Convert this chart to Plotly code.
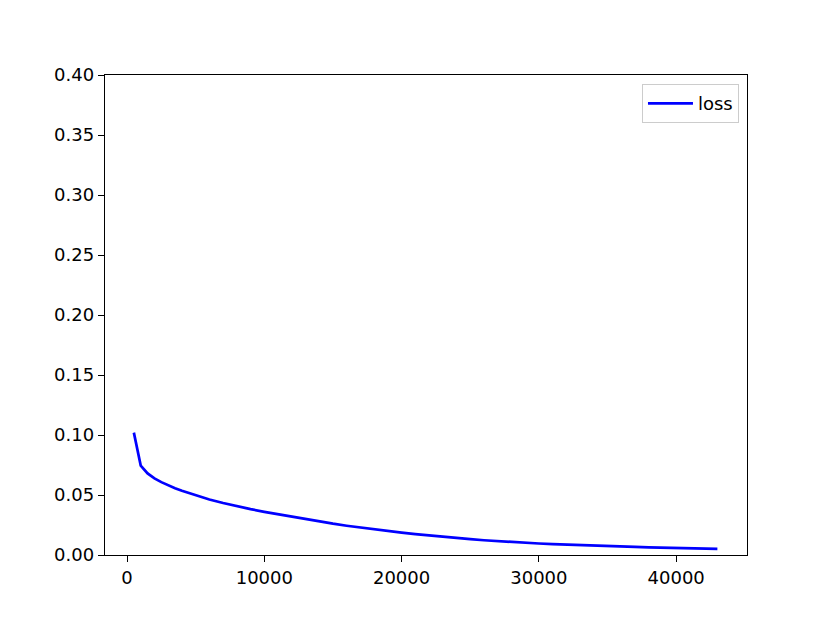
"""Training loss curve, matplotlib-style, drawn with plotly."""
import plotly.graph_objects as go

# step at which the loss was logged
steps = [500, 1000, 1500, 2000, 2500, 3000, 3500, 4000, 5000,
         6000, 7000, 8000, 9000, 10000, 11000, 12000, 13000, 14000, 15000,
         16000, 17000, 18000, 19000, 20000, 21000, 22000, 23000, 24000, 25000,
         26000, 27000, 28000, 29000, 30000, 31000, 32000, 33000, 34000, 35000,
         36000, 37000, 38000, 39000, 40000, 41000, 42000, 43000]
# loss values
loss = [0.1020, 0.0745, 0.0680, 0.0638, 0.0607, 0.0580, 0.0557, 0.0535, 0.0497,
        0.0463, 0.0433, 0.0406, 0.0382, 0.0360, 0.0339, 0.0318, 0.0298, 0.0279, 0.0261,
        0.0244, 0.0228, 0.0213, 0.0199, 0.0186, 0.0174, 0.0162, 0.0151, 0.0141, 0.0132,
        0.0123, 0.0115, 0.0108, 0.0102, 0.0096, 0.0091, 0.0086, 0.0082, 0.0078, 0.0074,
        0.0070, 0.0067, 0.0064, 0.0061, 0.0058, 0.0056, 0.0053, 0.0051]

x_ticks = [0, 10000, 20000, 30000, 40000]
y_ticks = [0.00, 0.05, 0.10, 0.15, 0.20, 0.25, 0.30, 0.35, 0.40]

FONT = "DejaVu Sans"

fig = go.Figure()
fig.add_trace(go.Scatter(
    x=steps, y=loss, mode="lines", name="loss",
    line=dict(color="#0000ff", width=2.7),
))

axis_style = dict(
    showline=True, mirror=True, linecolor="black", linewidth=1.4,
    ticks="outside", ticklen=6, tickwidth=1.4, tickcolor="black",
    showgrid=False, zeroline=False,
    tickfont=dict(family=FONT, size=18, color="black"),
)

# the page body adds ~7px offset, so margins are shifted to compensate
fig.update_layout(
    width=830, height=623,
    margin=dict(l=97, r=91, t=67, b=76),
    paper_bgcolor="white", plot_bgcolor="white",
    font=dict(family=FONT, size=18, color="black"),
    xaxis=dict(range=[-1602, 45157], tickvals=x_ticks,
               ticktext=[str(v) for v in x_ticks], **axis_style),
    yaxis=dict(range=[0, 0.40], tickvals=y_ticks,
               ticktext=[f"{v:.2f}" for v in y_ticks], **axis_style),
    showlegend=True,
    legend=dict(
        x=0.9875, y=0.981, xanchor="right", yanchor="top",
        bgcolor="white", bordercolor="#cccccc", borderwidth=1,
        itemwidth=45,
        font=dict(family=FONT, size=18, color="black"),
    ),
)

fig.write_html("out.html")
